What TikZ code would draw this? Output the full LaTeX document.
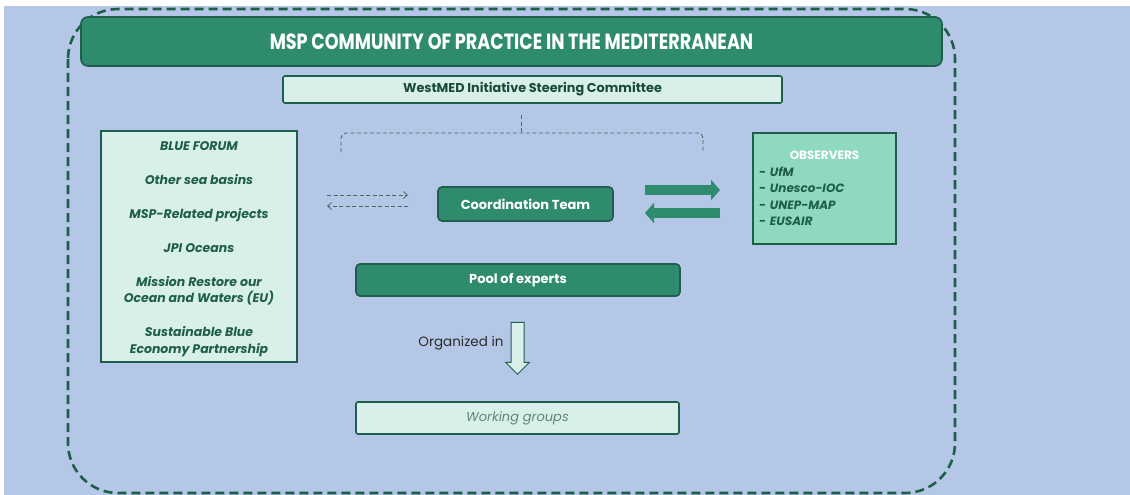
\documentclass[tikz,border=0pt]{standalone}
\usepackage{fontspec}
\setmainfont{Poppins}
\newfontfamily\titlefont[FakeStretch=0.8]{Poppins}
\definecolor{bgblue}{HTML}{B4C7E7}
\definecolor{teal}{HTML}{2E8B6E}
\definecolor{dkgreen}{HTML}{1F5E4B}
\definecolor{pale}{HTML}{D9F0EA}
\definecolor{mint}{HTML}{8ED9C0}
\definecolor{wgtext}{HTML}{5F8579}
\definecolor{ink}{HTML}{2B2B2B}
\definecolor{dashc}{HTML}{3E6E64}
\usetikzlibrary{arrows.meta,positioning,calc,shapes.arrows}

\begin{document}
\begin{tikzpicture}[x=1pt,y=-1pt,every node/.style={inner sep=0pt,outer sep=0pt}]
\tikzstyle{darkbox}=[rounded corners=4pt,draw=dkgreen,line width=1.6pt,fill=teal,text=white,font=\bfseries\fontsize{13}{15}\selectfont,align=center]
\tikzstyle{palebox}=[rounded corners=2pt,draw=dkgreen,line width=1.6pt,fill=pale,align=center]
\tikzstyle{bigarrow}=[teal,line width=10pt,-{Triangle[length=9pt,width=20pt]}]
\tikzstyle{dasharrow}=[dashc,line width=0.8pt,dash pattern=on 4pt off 2.5pt,-{Straight Barb[length=4pt,width=7pt]}]
\useasboundingbox (0,0) rectangle (1130,495);
\fill[bgblue] (4,6) rectangle (1130,495);
\draw[dkgreen,line width=2.6pt,dash pattern=on 9pt off 5pt,rounded corners=50pt] (68,9) rectangle (955,493);
% title and committee
\node[darkbox,rounded corners=7pt,minimum width=861pt,minimum height=49pt] (title) at (511.5,41.5) {\titlefont\fontsize{22}{25}\selectfont MSP COMMUNITY OF PRACTICE IN THE MEDITERRANEAN};
\node[palebox,minimum width=499pt,minimum height=27pt,text=dkgreen!80!black,font=\bfseries\fontsize{12.8}{14}\selectfont] (westmed) at (532.5,89.5) {WestMED Initiative Steering Committee};
% bracket under the committee
\coordinate (brtop) at (521,115);
\coordinate (brmid) at (521,133);
\draw[dashc,line width=0.9pt,dash pattern=on 4pt off 2.5pt,rounded corners=5pt] (341,152) -- (341,133) -- (703,133) -- (703,152);
\draw[dashc,line width=0.9pt,dash pattern=on 4pt off 2.5pt] (brtop) -- (brmid);
% partners
\node[palebox,rounded corners=0pt,minimum width=196pt,minimum height=231pt,text=dkgreen,font=\bfseries\itshape\fontsize{12.5}{16.5}\selectfont] (forum) at (199,246.5) {\mbox{}\\[-3pt]BLUE FORUM\\[17.5pt]Other sea basins\\[17.5pt]MSP-Related projects\\[17.5pt]JPI Oceans\\[17.5pt]Mission Restore our\\Ocean and Waters (EU)\\[17.5pt]Sustainable Blue\\Economy Partnership};
\node[darkbox,minimum width=175pt,minimum height=34pt] (ct) at (525.5,204) {Coordination Team};
\node[rectangle,draw=dkgreen,line width=1.6pt,fill=mint,minimum width=143pt,minimum height=111pt,text width=131pt,align=left,text=dkgreen,font=\bfseries\itshape\fontsize{12}{16.5}\selectfont] (obs) at (824.5,188.5) {\makebox[131pt]{\color{white}\upshape OBSERVERS}\\- UfM\\- Unesco-IOC\\- UNEP-MAP\\- EUSAIR};
\node[darkbox,minimum width=324pt,minimum height=32pt] (pool) at (518,280) {Pool of experts};
\node[single arrow,rotate=-90,draw=dkgreen,line width=1pt,fill=pale,minimum height=52pt,minimum width=24pt,inner sep=6pt,single arrow head extend=5.5pt,single arrow head indent=0pt] (orgarrow) at (517.5,345) {};
\node[text=ink,font=\fontsize{13.5}{15}\selectfont,left=8pt of orgarrow.center,xshift=-6pt,yshift=2pt] (orglabel) {Organized in};
\node[palebox,minimum width=323pt,minimum height=32pt,text=wgtext,font=\itshape\fontsize{13}{15}\selectfont] (wg) at (517.5,418) {Working groups};
% links
\draw[dasharrow,shorten <=30pt,shorten >=30pt] ([yshift=9pt]ct.west -| forum.east) -- ([yshift=9pt]ct.west);
\draw[dasharrow,shorten <=30pt,shorten >=30pt] ([yshift=-2pt]ct.west) -- ([yshift=-2pt]ct.west -| forum.east);
\draw[bigarrow,shorten <=32pt,shorten >=33pt] ([yshift=14pt]ct.east) -- ([yshift=14pt]ct.east -| obs.west);
\draw[bigarrow,shorten <=33pt,shorten >=32pt] ([yshift=-9pt]ct.east -| obs.west) -- ([yshift=-9pt]ct.east);
\end{tikzpicture}
\end{document}
